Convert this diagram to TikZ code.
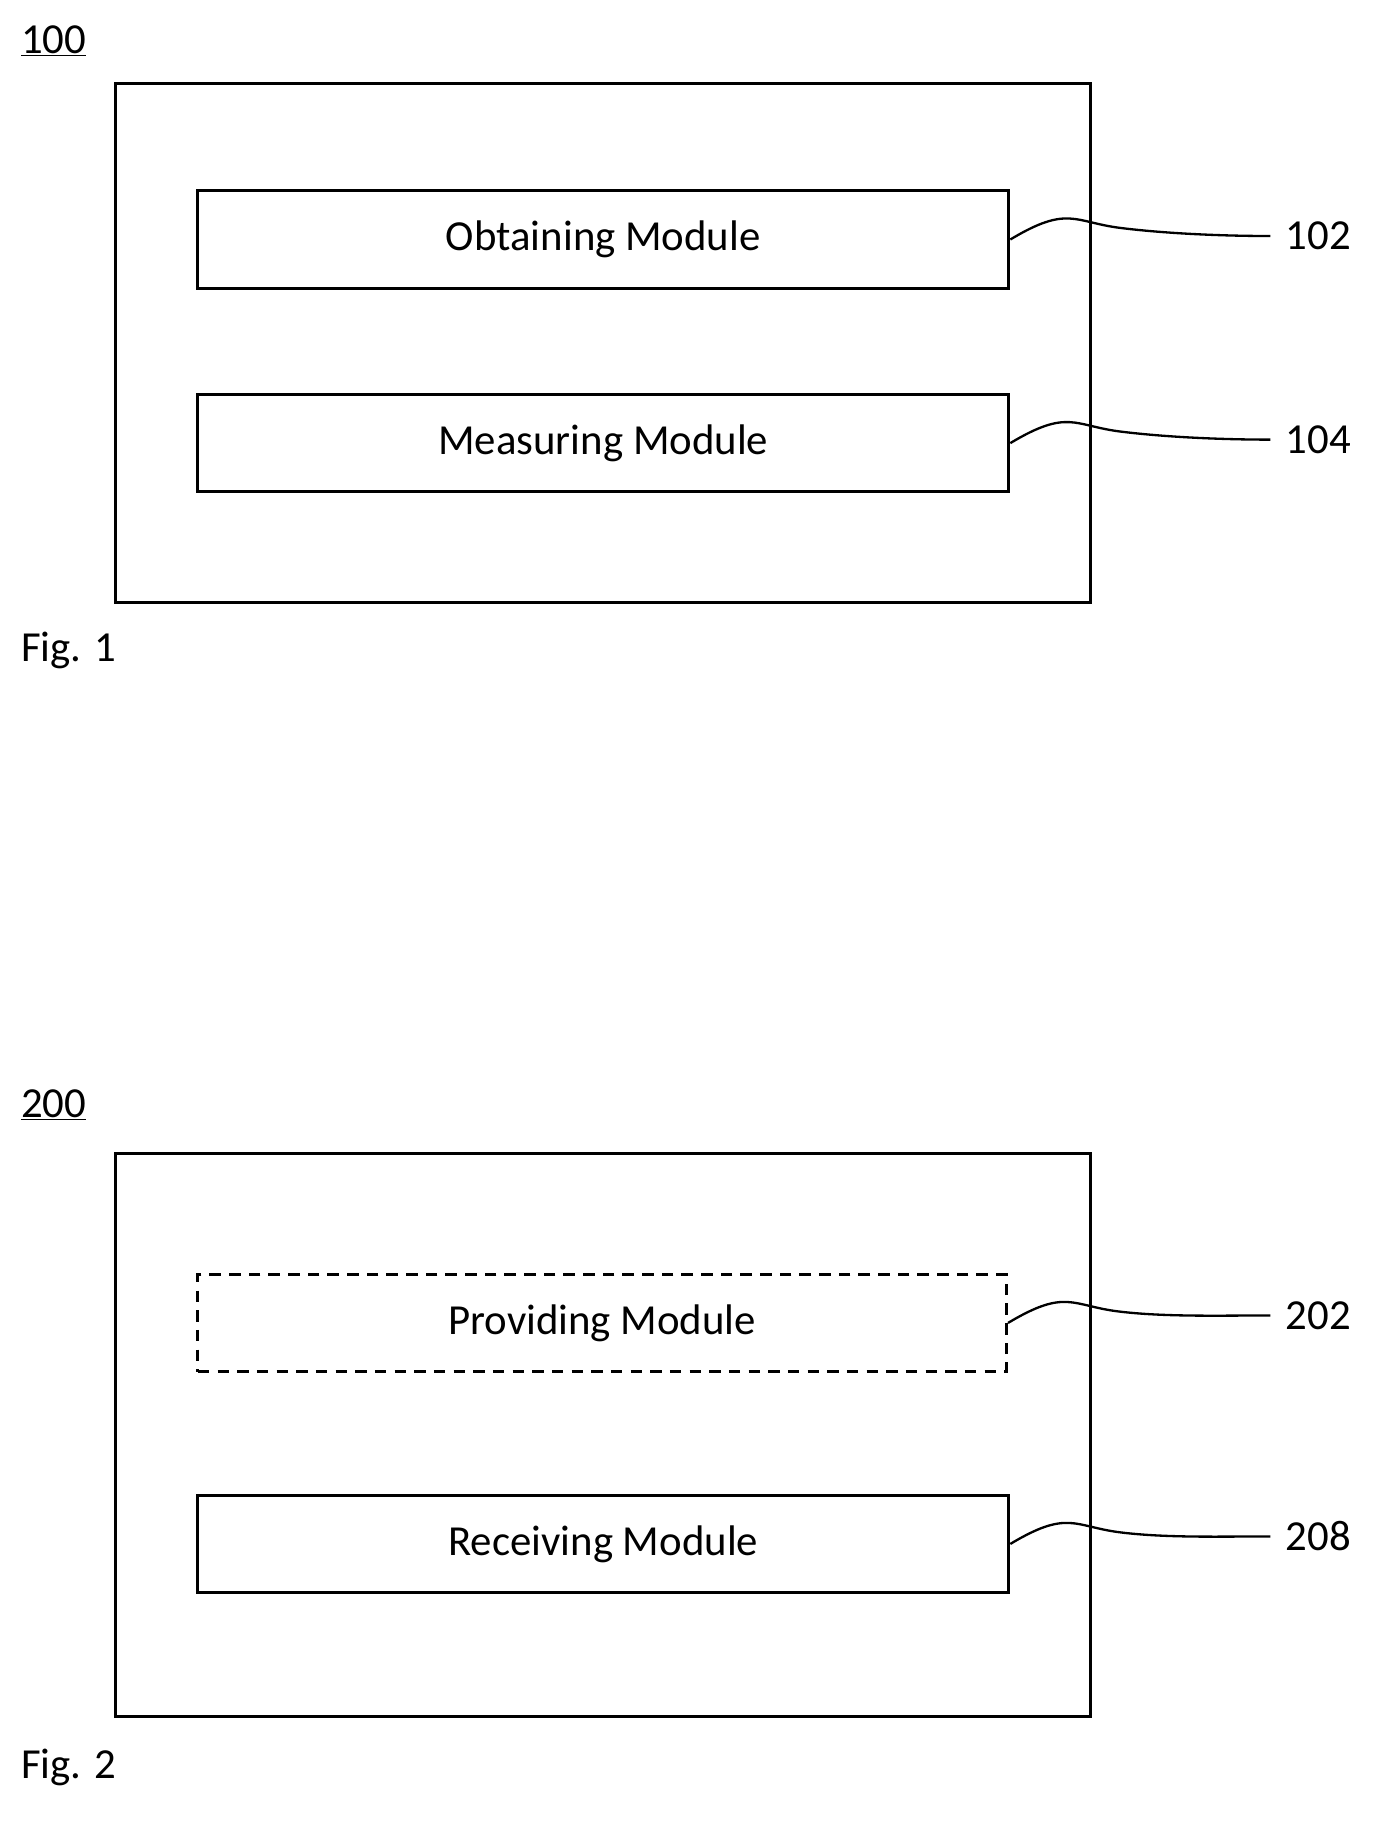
\documentclass[tikz,border=0pt]{standalone}
\usepackage{fontspec}
\setmainfont{Carlito}
\begin{document}
\begin{tikzpicture}[x=1pt,y=-1pt,line width=2.6pt,
 box/.style={draw,minimum width=701pt,minimum height=84pt,inner sep=0pt,font=\fontsize{37}{40}\selectfont},
 lbl/.style={font=\fontsize{37}{40}\selectfont,inner sep=0pt,anchor=west},
 wave/.style={line width=2pt}]
\useasboundingbox (0,0) rectangle (1200,1574);
\node[lbl] (n100) at (17,35) {\underline{100}};
\draw (100,72) rectangle (943,521);
\node[box] (b102) at (521.5,207) {Obtaining Module};
\node[box] (b104) at (521.5,383) {Measuring Module};
\node[lbl] (l102) at (1110,204) {102};
\node[lbl] (l104) at (1110,380) {104};
\node[lbl] (f1) at (17,562) {Fig. 1};
\node[lbl] (n200) at (17,955) {\underline{200}};
\draw (100,997) rectangle (943,1484);
\node[box,dashed,dash pattern=on 10pt off 7pt,minimum width=699pt] (b202) at (520.5,1143.5) {Providing Module};
\node[box] (b208) at (521.5,1334.5) {Receiving Module};
\node[lbl] (l202) at (1110,1137) {202};
\node[lbl] (l208) at (1110,1328) {208};
\node[lbl] (f2) at (17,1528) {Fig. 2};
\foreach \b/\l in {b102/l102,b104/l104,b202/l202,b208/l208}
  \draw[wave] (\b.east) .. controls +(50,-30) and +(-40,-5) .. ++(95,-10) .. controls +(40,5) and +(-40,0) .. ([xshift=-12pt]\l.west);
\end{tikzpicture}
\end{document}
